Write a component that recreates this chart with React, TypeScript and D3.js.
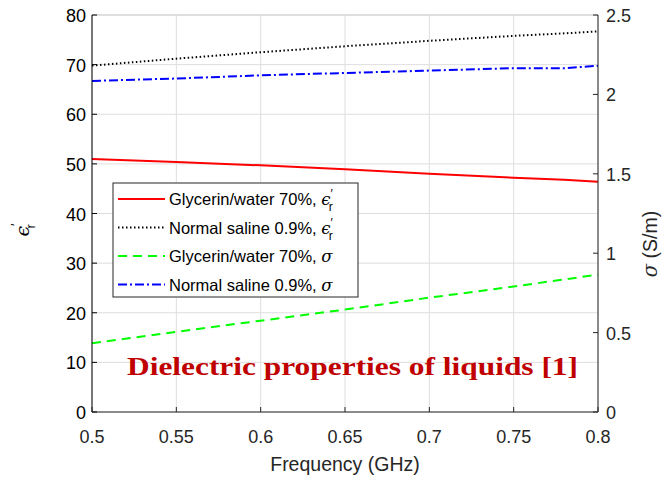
import React from "react";
import * as d3 from "d3";

// Frequency samples (GHz)
const freq = [0.5, 0.55, 0.6, 0.65, 0.7, 0.75, 0.78, 0.8];
// Relative permittivity (left axis)
const glycerinEps = [51.0, 50.4, 49.7, 48.9, 48.0, 47.2, 46.8, 46.4];
const salineEps = [69.8, 71.2, 72.5, 73.7, 74.8, 75.8, 76.3, 76.7];
// Conductivity in S/m (right axis)
const glycerinSigma = [0.433, 0.505, 0.575, 0.645, 0.72, 0.79, 0.835, 0.865];
const salineSigma = [2.085, 2.1, 2.12, 2.135, 2.15, 2.165, 2.165, 2.18];

const xTicks = [0.5, 0.55, 0.6, 0.65, 0.7, 0.75, 0.8];
const yLeftTicks = [0, 10, 20, 30, 40, 50, 60, 70, 80];
const yRightTicks = [0, 0.5, 1, 1.5, 2, 2.5];

const W = 671;
const H = 478;
const M = { left: 92, right: 598, top: 15, bottom: 412 };

export default function App() {
  const x = d3.scaleLinear().domain([0.5, 0.8]).range([M.left, M.right]);
  const yL = d3.scaleLinear().domain([0, 80]).range([M.bottom, M.top]);
  const yR = d3.scaleLinear().domain([0, 2.5]).range([M.bottom, M.top]);

  const lineL = (vals: number[]) =>
    d3.line<number>().x((_, i) => x(freq[i])).y((v) => yL(v))(vals) || "";
  const lineR = (vals: number[]) =>
    d3.line<number>().x((_, i) => x(freq[i])).y((v) => yR(v))(vals) || "";

  const font = "'Liberation Sans', Arial, sans-serif";
  const greek = "'DejaVu Serif', serif";
  const tickColor = "#262626";
  const tickSize = 18;

  const series = [
    { d: lineL(glycerinEps), color: "#ff0000", dash: "", label: "Glycerin/water 70%, ", eps: true },
    { d: lineL(salineEps), color: "#000000", dash: "1.5 2.5", label: "Normal saline 0.9%, ", eps: true },
    { d: lineR(glycerinSigma), color: "#00ff00", dash: "9 6", label: "Glycerin/water 70%, ", eps: false },
    { d: lineR(salineSigma), color: "#0000ff", dash: "9 3 2 3", label: "Normal saline 0.9%, ", eps: false },
  ];

  const lg = { x: 113, y: 183, w: 245, h: 114 };

  return (
    <svg width={W} height={H} style={{ position: "absolute", left: 0, top: 0, background: "#fff" }}>
      <rect width={W} height={H} fill="#fff" />
      {/* grid */}
      {xTicks.map((t) => (
        <line key={"gx" + t} x1={x(t)} x2={x(t)} y1={M.top} y2={M.bottom} stroke="#dedede" strokeWidth={1} />
      ))}
      {yLeftTicks.map((t) => (
        <line key={"gy" + t} x1={M.left} x2={M.right} y1={yL(t)} y2={yL(t)} stroke="#dedede" strokeWidth={1} />
      ))}
      <line x1={M.left} x2={M.right} y1={M.top} y2={M.top} stroke="#cfcfcf" strokeWidth={1} />

      {/* data */}
      {series.map((s, i) => (
        <path key={i} d={s.d} fill="none" stroke={s.color} strokeWidth={2} strokeDasharray={s.dash || undefined} />
      ))}

      {/* axes */}
      <line x1={M.left} x2={M.right} y1={M.bottom} y2={M.bottom} stroke={tickColor} strokeWidth={1} />
      <line x1={M.left} x2={M.left} y1={M.top} y2={M.bottom} stroke="#000" strokeWidth={1} />
      <line x1={M.right} x2={M.right} y1={M.top} y2={M.bottom} stroke={tickColor} strokeWidth={1} />
      {xTicks.map((t) => (
        <g key={"xt" + t}>
          <line x1={x(t)} x2={x(t)} y1={M.bottom} y2={M.bottom - 5} stroke={tickColor} />
          <text x={x(t)} y={M.bottom + 31} textAnchor="middle" fontFamily={font} fontSize={tickSize} fill={tickColor}>
            {t}
          </text>
        </g>
      ))}
      {yLeftTicks.map((t) => (
        <g key={"yl" + t}>
          <line x1={M.left} x2={M.left + 5} y1={yL(t)} y2={yL(t)} stroke="#000" />
          <text x={M.left - 6} y={yL(t) + 7} textAnchor="end" fontFamily={font} fontSize={tickSize} fill="#000">
            {t}
          </text>
        </g>
      ))}
      {yRightTicks.map((t) => (
        <g key={"yr" + t}>
          <line x1={M.right} x2={M.right - 5} y1={yR(t)} y2={yR(t)} stroke={tickColor} />
          <text x={M.right + 8} y={yR(t) + 7} textAnchor="start" fontFamily={font} fontSize={tickSize} fill={tickColor}>
            {t}
          </text>
        </g>
      ))}

      {/* axis labels */}
      <text x={(M.left + M.right) / 2} y={471} textAnchor="middle" fontFamily={font} fontSize={19.5} fill={tickColor}>
        Frequency (GHz)
      </text>
      <g transform="translate(29, 230) rotate(-90)">
        <text textAnchor="middle" fontFamily={font} fontSize={19} fill="#000">
          <tspan fontStyle="italic" fontFamily={greek}>ϵ</tspan>
          <tspan dy={-9} fontSize={13}>′</tspan>
          <tspan dy={15} dx={-5} fontSize={13}>r</tspan>
        </text>
      </g>
      <g transform="translate(657, 244) rotate(-90)">
        <text textAnchor="middle" fontFamily={font} fontSize={19.5} fill={tickColor}>
          <tspan fontStyle="italic" fontFamily={greek}>σ</tspan> (S/m)
        </text>
      </g>

      {/* legend */}
      <rect x={lg.x} y={lg.y} width={lg.w} height={lg.h} fill="#fff" stroke="#262626" strokeWidth={1} />
      {series.map((s, i) => {
        const cy = lg.y + 16 + i * 28.5;
        return (
          <g key={"lg" + i}>
            <line x1={lg.x + 5} x2={lg.x + 52} y1={cy} y2={cy} stroke={s.color} strokeWidth={2} strokeDasharray={s.dash || undefined} />
            <text x={lg.x + 56} y={cy + 6} fontFamily={font} fontSize={16.5} fill="#000">
              {s.label}
              {s.eps ? (
                <>
                  <tspan fontStyle="italic" fontFamily={greek}>ϵ</tspan>
                  <tspan dy={-7} fontSize={12}>′</tspan>
                  <tspan dy={13} dx={-4} fontSize={12}>r</tspan>
                </>
              ) : (
                <tspan fontStyle="italic" fontFamily={greek}>σ</tspan>
              )}
            </text>
          </g>
        );
      })}

      {/* annotation */}
      <text
        x={127}
        y={375}
        fontFamily="'Liberation Serif', 'DejaVu Serif', serif"
        fontWeight="bold"
        fontSize={26}
        fill="#c00000"
        textLength={451}
        lengthAdjust="spacingAndGlyphs"
      >
        Dielectric properties of liquids [1]
      </text>
    </svg>
  );
}
